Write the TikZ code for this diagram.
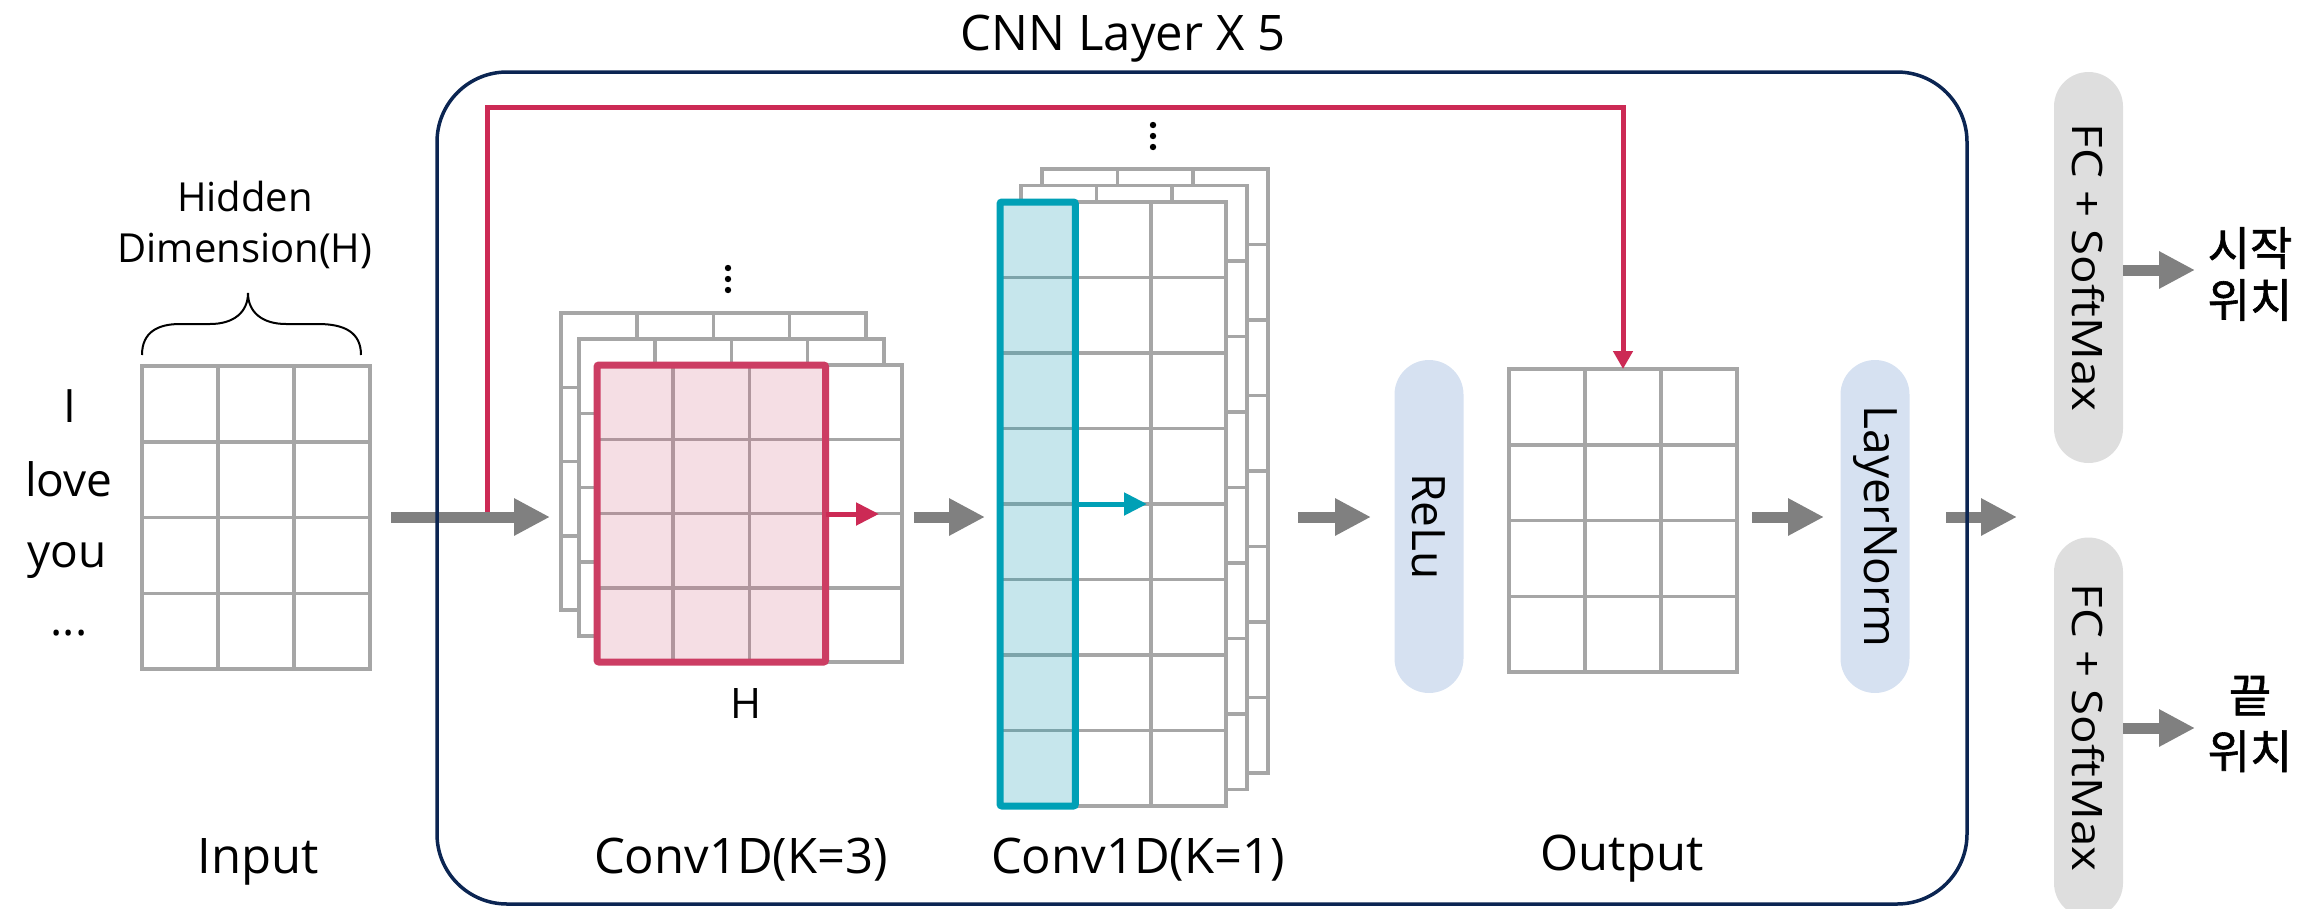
\documentclass[tikz,border=0pt]{standalone}
\usepackage{fontspec}
\usepackage{graphicx}
\setmainfont{Open Sans}
\newfontfamily\krfont{Noto Sans CJK KR}[FakeBold=1.3]
\usetikzlibrary{arrows.meta}
\definecolor{navyc}{HTML}{0B2552}
\definecolor{skipred}{HTML}{CC2A55}
\definecolor{boxred}{HTML}{CC3D63}
\definecolor{pinkfill}{HTML}{F5DEE4}
\definecolor{pinkline}{HTML}{B0969D}
\definecolor{tealc}{HTML}{00A0B6}
\definecolor{tealfill}{HTML}{C6E6EC}
\definecolor{tealline}{HTML}{7DA4AA}
\definecolor{gridgray}{HTML}{A6A6A6}
\definecolor{arrgray}{HTML}{808080}
\definecolor{pillblue}{HTML}{D6E1F1}
\definecolor{pillgray}{HTML}{DEDEDE}
\newcommand\fsz[1]{\fontsize{#1}{#1}\selectfont}
\newcommand\drawgrid[6]{%
  \fill[white] (#1,#2) rectangle ++(#3*#5,#4*#6);
  \foreach \ii in {1,...,#3} {\draw[gridline] ({#1+(\ii-1)*#5},#2) -- ++(0,#4*#6);}
  \foreach \jj in {1,...,#4} {\draw[gridline] (#1,{#2+(\jj-1)*#6}) -- ++(#3*#5,0);}
  \draw[gridline] (#1,#2) rectangle ++(#3*#5,#4*#6);
}
\tikzset{
  gridline/.style={draw=gridgray, line width=3.5pt},
  bigarrow/.style={draw=arrgray, line width=11pt, -{Triangle[length=36pt,width=35pt]}},
  thinarrow/.style={line width=5pt, -{Triangle[length=23pt,width=22pt]}},
  lab/.style={anchor=base, font=\fsz{49}},
  pill/.style={rotate=-90, rounded corners=34.5pt, inner sep=0pt, minimum height=69pt},
}
\begin{document}
\begin{tikzpicture}[x=1pt,y=-1pt]
\useasboundingbox (0,0) rectangle (2305,908);
\clip (0,0) rectangle (2305,908);

% title
\node[lab] (title) at (1123,50) {CNN Layer X 5};

% ---------- input ----------
\drawgrid{142}{366}{3}{4}{76}{75.75}
\draw[black, line width=2pt] (142,355) .. controls (142,332) and (158,324) .. (180,324) -- (210,324)
  .. controls (234,324) and (248,312) .. (248,293) .. controls (248,312) and (262,324) .. (286,324)
  -- (318,324) .. controls (344,324) and (361,332) .. (361,355);
\node[anchor=base, font=\fsz{40}] (hid1) at (245,211) {Hidden};
\node[anchor=base, font=\fsz{40}] (hid2) at (245,262) {Dimension(H)};
\node[anchor=base, font=\fsz{46}] (w1) at (70,422) {I};
\node[anchor=base, font=\fsz{46}] (w2) at (69,496) {love};
\node[anchor=base, font=\fsz{46}] (w3) at (67,567) {you};
\node[anchor=base, font=\fsz{46}] (w4) at (69,635) {...};
\node[lab] (inlab) at (258,873) {Input};

% ---------- conv1 (K=3) ----------
\drawgrid{561}{313}{4}{4}{76.2}{74.25}
\drawgrid{579}{339}{4}{4}{76.2}{74.25}
\drawgrid{597}{365}{4}{4}{76.2}{74.25}
\fill[pinkfill] (597,365) rectangle (825.6,662);
\foreach \cx in {673.2,749.4} {\draw[pinkline, line width=3.5pt] (\cx,365) -- (\cx,662);}
\foreach \ry in {439.25,513.5,587.75} {\draw[pinkline, line width=3.5pt] (597,\ry) -- (825.6,\ry);}
\draw[boxred, line width=7pt, rounded corners=2pt] (597,365) rectangle (825.6,662);
\fill (728,268) circle (3.2pt) (728,279) circle (3.2pt) (728,290) circle (3.2pt);
\coordinate (r1s) at (825.6,514);
\coordinate (r1e) at (879,514);
\draw[thinarrow, skipred] (r1s) -- (r1e);
\node[anchor=base, font=\fsz{42}] (hlab) at (746,718) {H};
\node[lab] (c1lab) at (741,873) {Conv1D(K=3)};

% ---------- conv2 (K=1) ----------
\drawgrid{1042}{169}{3}{8}{75.4}{75.5}
\drawgrid{1021}{185.5}{3}{8}{75.4}{75.5}
\drawgrid{1000}{202}{3}{8}{75.4}{75.5}
\fill[tealfill] (1000,202) rectangle (1075.4,806);
\foreach \k in {1,...,7} {\draw[tealline, line width=3.5pt] (1000,{202+\k*75.5}) -- (1075.4,{202+\k*75.5});}
\draw[tealc, line width=7pt, rounded corners=2pt] (1000,202) rectangle (1075.4,806);
\fill (1153,125) circle (3.2pt) (1153,136) circle (3.2pt) (1153,147) circle (3.2pt);
\coordinate (t1s) at (1075.4,504);
\coordinate (t1e) at (1147,504);
\draw[thinarrow, tealc] (t1s) -- (t1e);
\node[lab] (c2lab) at (1138,873) {Conv1D(K=1)};

% ---------- relu / output / layernorm ----------
\node[pill, fill=pillblue, minimum width=333pt, font=\fsz{46}] (relu) at (1429,526.5) {ReLu};
\drawgrid{1509}{369}{3}{4}{76}{75.75}
\node[lab] (outlab) at (1622,870) {Output};
\node[pill, fill=pillblue, minimum width=333pt, font=\fsz{46}] (lnorm) at (1875,526.5) {LayerNorm};

% ---------- FC heads ----------
\node[pill, fill=pillgray, minimum width=391pt, font=\fsz{42}] (fc1) at (2088.5,267.5) {\scalebox{1.13}[1]{FC + SoftMax}};
\node[pill, fill=pillgray, minimum width=380pt, font=\fsz{42}] (fc2) at (2088.5,727.5) {\scalebox{1.13}[1]{FC + SoftMax}};
\node[align=center, font=\krfont\fontsize{46}{52}\selectfont] (startpos) at (2250,274) {시작\\위치};
\node[align=center, font=\krfont\fontsize{46}{56}\selectfont] (endpos) at (2250,724) {끝\\위치};

% ---------- connectors ----------
\coordinate (sk0) at (487,517);
\coordinate (sk1) at (487,107);
\coordinate (sk2) at (1623,107);
\coordinate (sk3) at (1623,369);
\draw[skipred, line width=5pt, -{Triangle[length=18pt,width=19pt]}] (sk0) -- (sk1) -- (sk2) -- (sk3);

\coordinate (a1s) at (391,517);  \coordinate (a1e) at (550,517);
\coordinate (a2s) at (914,517);  \coordinate (a2e) at (985,517);
\coordinate (a3s) at (1298,517); \coordinate (a3e) at (1371,517);
\coordinate (a4s) at (1752,517); \coordinate (a4e) at (1824,517);
\coordinate (a5s) at (1946,517); \coordinate (a5e) at (2017,517);
\coordinate (f1s) at (2123,270); \coordinate (f1e) at (2195,270);
\coordinate (f2s) at (2123,728); \coordinate (f2e) at (2195,728);
\draw[bigarrow] (a1s) -- (a1e);
\draw[bigarrow] (a2s) -- (a2e);
\draw[bigarrow] (a3s) -- (a3e);
\draw[bigarrow] (a4s) -- (a4e);
\draw[bigarrow] (a5s) -- (a5e);
\draw[bigarrow] (f1s) -- (f1e);
\draw[bigarrow] (f2s) -- (f2e);

% CNN layer box
\draw[navyc, line width=3.5pt, rounded corners=70pt] (437,72) rectangle (1967,904);
\end{tikzpicture}
\end{document}
